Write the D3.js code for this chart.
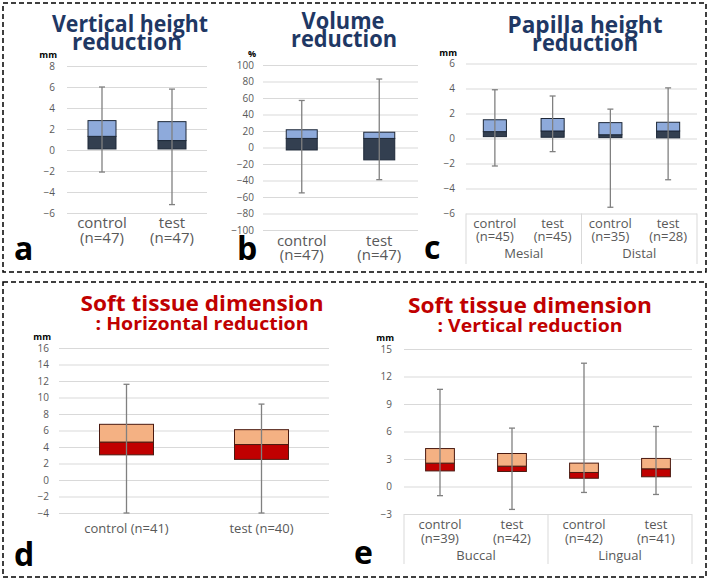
<!DOCTYPE html>
<html>
<head>
<meta charset="utf-8">
<script src="https://cdn.jsdelivr.net/npm/d3@7"></script>
<style>
  body { margin: 0; background: #fff; }
  text { font-family: "Open Sans", sans-serif; }
</style>
</head>
<body>
<div id="chart"></div>
<script>
// a: vertical height reduction (mm)
var vhGroups = ["control", "test"];
var vhN = [47, 47];
var vhMin = [-2.1, -5.2];
var vhQ1 = [0.1, 0.1];
var vhMed = [1.3, 0.9];
var vhQ3 = [2.8, 2.7];
var vhMax = [6.0, 5.8];
var vhTicks = [-6, -4, -2, 0, 2, 4, 6, 8];

// b: volume reduction (%)
var volGroups = ["control", "test"];
var volN = [47, 47];
var volMin = [-55, -39];
var volQ1 = [-3, -15];
var volMed = [11, 11];
var volQ3 = [21.5, 18.5];
var volMax = [57, 83];
var volTicks = [-100, -80, -60, -40, -20, 0, 20, 40, 60, 80, 100];

// c: papilla height reduction (mm)
var papGroups = ["control", "test", "control", "test"];
var papN = [45, 45, 35, 28];
var papSites = ["Mesial", "Distal"];
var papMin = [-2.2, -1.05, -5.5, -3.3];
var papQ1 = [0.15, 0.1, 0.07, 0.05];
var papMed = [0.55, 0.6, 0.3, 0.6];
var papQ3 = [1.5, 1.6, 1.27, 1.3];
var papMax = [3.9, 3.4, 2.35, 4.05];
var papTicks = [-6, -4, -2, 0, 2, 4, 6];

// d: soft tissue horizontal reduction (mm)
var horGroups = ["control", "test"];
var horN = [41, 40];
var horMin = [-4, -4];
var horQ1 = [3.05, 2.5];
var horMed = [4.6, 4.3];
var horQ3 = [6.75, 6.1];
var horMax = [11.6, 9.2];
var horTicks = [-4, -2, 0, 2, 4, 6, 8, 10, 12, 14, 16];

// e: soft tissue vertical reduction (mm)
var verGroups = ["control", "test", "control", "test"];
var verN = [39, 42, 42, 41];
var verSites = ["Buccal", "Lingual"];
var verMin = [-1.0, -2.5, -0.65, -0.87];
var verQ1 = [1.7, 1.64, 0.9, 1.06];
var verMed = [2.55, 2.22, 1.53, 1.93];
var verQ3 = [4.14, 3.6, 2.55, 3.06];
var verMax = [10.6, 6.37, 13.45, 6.55];
var verTicks = [-3, 0, 3, 6, 9, 12, 15];

var blue = { light: "#8eaadb", dark: "#333f50", stroke: "#1e2838", title: "#1f3864" };
var red = { light: "#f4b183", dark: "#c00000", stroke: "#4a1a10", title: "#c00000" };

var svg = d3.select("#chart").append("svg")
    .attr("width", 709)
    .attr("height", 580);

// dashed frames
svg.append("rect").attr("x", 3).attr("y", 3).attr("width", 703).attr("height", 269)
  .attr("fill", "none").attr("stroke", "#000").attr("stroke-width", 1.5).attr("stroke-dasharray", "5,3");
svg.append("rect").attr("x", 3).attr("y", 282).attr("width", 703).attr("height", 295)
  .attr("fill", "none").attr("stroke", "#000").attr("stroke-width", 1.5).attr("stroke-dasharray", "5,3");

function drawPanel(p) {
  var n = p.groups.length;
  var x = d3.scaleBand().domain(d3.range(n)).range([p.left, p.right]);
  var y = d3.scaleLinear().domain(p.domain).range([p.bottom, p.top]);
  var g = svg.append("g");

  // gridlines
  g.append("g")
    .attr("transform", "translate(" + p.left + ",0)")
    .call(d3.axisLeft(y).tickValues(p.ticks).tickSize(-(p.right - p.left)).tickFormat(""))
    .call(function(a) { a.select(".domain").remove(); })
    .selectAll("line").attr("stroke", "#d9d9d9").attr("stroke-width", 1);

  // tick labels
  g.append("g")
    .attr("transform", "translate(" + p.labelX + ",0)")
    .attr("font-family", "Open Sans, sans-serif")
    .attr("font-size", 11)
    .call(d3.axisLeft(y).tickValues(p.ticks).tickSize(0).tickPadding(0))
    .call(function(a) { a.select(".domain").remove(); })
    .selectAll("text").attr("fill", "#595959");

  // unit
  g.append("text")
    .attr("x", p.labelX + 2).attr("y", y(p.domain[1]) - 8)
    .attr("text-anchor", "end")
    .attr("font-size", 9).attr("font-weight", 700)
    .text(p.unit);

  var bw = x.bandwidth() * 0.4;
  var cx = function(i) { return x(i) + x.bandwidth() / 2; };
  var idx = d3.range(n);

  // lower box part (q1 - median)
  g.selectAll(".lo").data(idx).enter().append("rect")
    .attr("x", function(i) { return cx(i) - bw / 2; })
    .attr("y", function(i) { return y(p.med[i]); })
    .attr("width", bw)
    .attr("height", function(i) { return y(p.q1[i]) - y(p.med[i]); })
    .attr("fill", p.color.dark).attr("stroke", p.color.stroke).attr("stroke-width", 1);

  // upper box part (median - q3)
  g.selectAll(".hi").data(idx).enter().append("rect")
    .attr("x", function(i) { return cx(i) - bw / 2; })
    .attr("y", function(i) { return y(p.q3[i]); })
    .attr("width", bw)
    .attr("height", function(i) { return y(p.med[i]) - y(p.q3[i]); })
    .attr("fill", p.color.light).attr("stroke", p.color.stroke).attr("stroke-width", 1);

  // whiskers
  g.selectAll(".wh").data(idx).enter().append("line")
    .attr("x1", cx).attr("x2", cx)
    .attr("y1", function(i) { return y(p.max[i]); })
    .attr("y2", function(i) { return y(p.min[i]); })
    .attr("stroke", "#808080").attr("stroke-width", 1.3);
  g.selectAll(".capT").data(idx).enter().append("line")
    .attr("x1", function(i) { return cx(i) - 3; }).attr("x2", function(i) { return cx(i) + 3; })
    .attr("y1", function(i) { return y(p.max[i]); }).attr("y2", function(i) { return y(p.max[i]); })
    .attr("stroke", "#808080").attr("stroke-width", 1.3);
  g.selectAll(".capB").data(idx).enter().append("line")
    .attr("x1", function(i) { return cx(i) - 3; }).attr("x2", function(i) { return cx(i) + 3; })
    .attr("y1", function(i) { return y(p.min[i]); }).attr("y2", function(i) { return y(p.min[i]); })
    .attr("stroke", "#808080").attr("stroke-width", 1.3);

  // category labels
  idx.forEach(function(i) {
    var t = g.append("text")
      .attr("text-anchor", "middle")
      .attr("fill", "#595959")
      .attr("font-size", p.catSize);
    if (p.oneLine) {
      t.attr("x", cx(i)).attr("y", p.catY[0]).text(p.groups[i] + " (n=" + p.ns[i] + ")");
    } else {
      t.append("tspan").attr("x", cx(i)).attr("y", p.catY[0]).text(p.groups[i]);
      t.append("tspan").attr("x", cx(i)).attr("y", p.catY[1]).text("(n=" + p.ns[i] + ")");
    }
  });

  // site grouping table
  if (p.sites) {
    var mid = x(2);
    var tb = p.tableBottom;
    [p.left, mid, p.right].forEach(function(xx) {
      g.append("line").attr("x1", xx).attr("x2", xx).attr("y1", p.bottom).attr("y2", tb)
        .attr("stroke", "#d9d9d9");
    });
    p.sites.forEach(function(s, k) {
      g.append("text")
        .attr("x", (x(k * 2) + x(k * 2 + 1) + x.bandwidth()) / 2)
        .attr("y", p.catY[2])
        .attr("text-anchor", "middle").attr("fill", "#595959")
        .attr("font-size", p.catSize)
        .text(s);
    });
  }

  // title
  p.title.forEach(function(tl) {
    g.append("text")
      .attr("x", tl.x).attr("y", tl.y)
      .attr("text-anchor", "middle")
      .attr("font-weight", 700).attr("font-size", tl.size)
      .attr("fill", p.color.title)
      .attr("textLength", tl.w).attr("lengthAdjust", "spacingAndGlyphs")
      .text(tl.text);
  });

  // panel letter
  g.append("text")
    .attr("x", p.letter[1]).attr("y", p.letter[2])
    .attr("font-weight", 700).attr("font-size", 32).attr("fill", "#000")
    .text(p.letter[0]);
}

drawPanel({
  groups: vhGroups, ns: vhN, min: vhMin, q1: vhQ1, med: vhMed, q3: vhQ3, max: vhMax,
  ticks: vhTicks, domain: [-6, 8], unit: "mm",
  left: 67, right: 207, top: 66, bottom: 213, labelX: 55,
  color: blue, catSize: 15, catY: [228, 243],
  title: [{ text: "Vertical height", x: 130, y: 32, size: 23, w: 156 },
          { text: "reduction", x: 127, y: 50, size: 23, w: 110 }],
  letter: ["a", 14, 260]
});

drawPanel({
  groups: volGroups, ns: volN, min: volMin, q1: volQ1, med: volQ3.map(function(d, i) { return volMed[i]; }),
  q3: volQ3, max: volMax,
  ticks: volTicks, domain: [-100, 100], unit: "%",
  left: 263, right: 418, top: 65, bottom: 230, labelX: 254,
  color: blue, catSize: 15, catY: [246, 260],
  title: [{ text: "Volume", x: 343, y: 29, size: 23, w: 83 },
          { text: "reduction", x: 344, y: 47, size: 23, w: 106 }],
  letter: ["b", 237, 260]
});

drawPanel({
  groups: papGroups, ns: papN, min: papMin, q1: papQ1, med: papMed, q3: papQ3, max: papMax,
  ticks: papTicks, domain: [-6, 6], unit: "mm",
  left: 466, right: 697, top: 63.5, bottom: 213.5, labelX: 455,
  color: blue, catSize: 13, catY: [228, 241, 258], sites: papSites, tableBottom: 264,
  title: [{ text: "Papilla height", x: 585, y: 33, size: 23, w: 155 },
          { text: "reduction", x: 585, y: 51, size: 23, w: 106 }],
  letter: ["c", 424, 259]
});

drawPanel({
  groups: horGroups, ns: horN, min: horMin, q1: horQ1, med: horMed, q3: horQ3, max: horMax,
  ticks: horTicks, domain: [-4, 16], unit: "mm",
  left: 59, right: 329, top: 348, bottom: 513, labelX: 49,
  color: red, catSize: 13, catY: [533], oneLine: true,
  title: [{ text: "Soft tissue dimension", x: 202, y: 311, size: 21, w: 243 },
          { text: ": Horizontal reduction", x: 202, y: 330, size: 18, w: 213 }],
  letter: ["d", 14, 566]
});

drawPanel({
  groups: verGroups, ns: verN, min: verMin, q1: verQ1, med: verMed, q3: verQ3, max: verMax,
  ticks: verTicks, domain: [-3, 15], unit: "mm",
  left: 404, right: 692, top: 349, bottom: 514, labelX: 392,
  color: red, catSize: 13, catY: [529, 543, 560], sites: verSites, tableBottom: 564,
  title: [{ text: "Soft tissue dimension", x: 530, y: 313, size: 21, w: 244 },
          { text: ": Vertical reduction", x: 530, y: 332, size: 18, w: 185 }],
  letter: ["e", 354, 564]
});
</script>
</body>
</html>
